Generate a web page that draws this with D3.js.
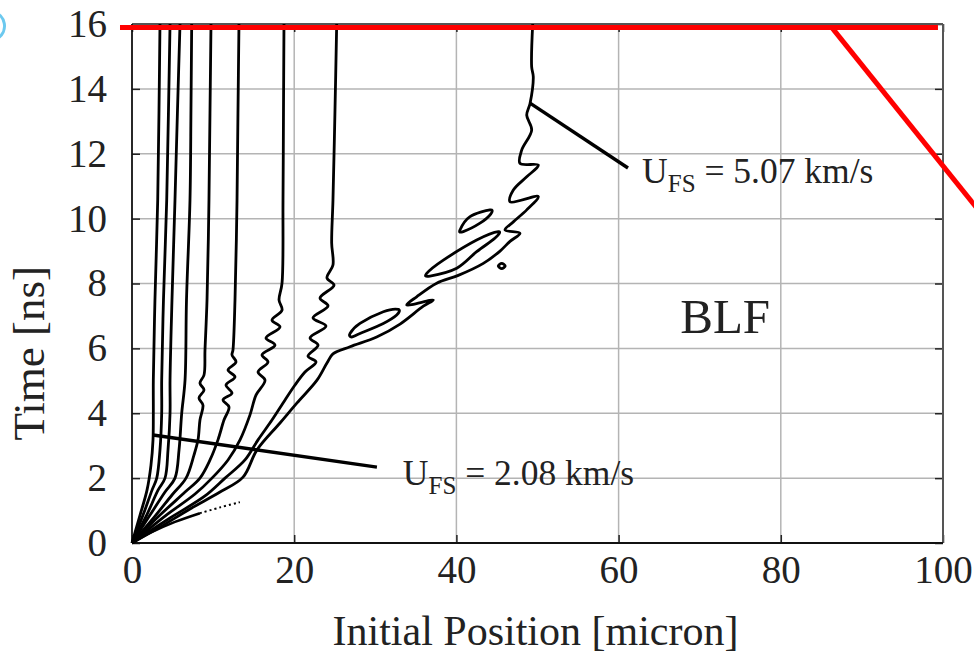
<!DOCTYPE html>
<html>
<head>
<meta charset="utf-8">
<script src="https://cdn.jsdelivr.net/npm/d3@7"></script>
<style>
  body { margin: 0; background: #fff; }
  text { font-family: "Liberation Serif", "DejaVu Serif", serif; fill: #222; }
</style>
</head>
<body>
<div id="chart"></div>
<script>
// tick values
const xTicks = [0, 20, 40, 60, 80, 100];
const yTicks = [0, 2, 4, 6, 8, 10, 12, 14, 16];

// trajectories: [initial position (micron), time (ns)]
const curve1 = [[0,0],[0.99,0.86],[1.85,1.63],[2.34,2.4],[2.59,3.18],[2.63,4.0],[2.63,5.02],[2.83,7.49],[3.17,10.57],[3.33,13.35],[3.45,16]];
const curve2 = [[0,0],[1.36,0.86],[2.47,1.63],[3.05,2.0],[3.45,2.87],[3.66,4.0],[3.66,5.02],[3.88,7.49],[4.28,10.57],[4.5,13.35],[4.69,16]];
const curve3 = [[0,0],[1.81,0.86],[3.21,1.63],[4.07,2.0],[4.44,2.87],[4.69,4.0],[4.69,5.02],[4.93,7.49],[5.3,10.57],[5.61,13.35],[5.92,16]];
const curve4 = [[0,0],[2.22,0.86],[4.07,1.57],[5.3,2.0],[5.8,2.87],[6.13,4.0],[6.54,5.02],[6.72,7.49],[7.15,10.57],[7.27,13.35],[7.36,16]];
const curve5 = [[0,0],[2.84,0.83],[4.93,1.48],[6.66,2.0],[7.64,2.71],[8.14,3.18],[8.38,3.79],[8.75,4.25],[8.26,4.47],[8.88,4.72],[8.38,4.93],[8.88,5.18],[9.0,5.95],[9.25,7.49],[9.49,10.57],[9.62,13.35],[9.74,16]];
const curve6 = [[0,0],[3.45,0.86],[6.54,1.57],[8.38,2.0],[9.62,2.56],[10.6,3.18],[11.34,3.79],[11.96,4.19],[11.22,4.41],[12.33,4.62],[11.59,4.87],[12.7,5.12],[11.84,5.33],[12.82,5.58],[12.33,5.8],[12.45,5.95],[12.7,7.49],[12.95,10.57],[13.07,13.35],[13.19,16]];
const curve7 = [[0,0],[4.07,0.83],[7.77,1.51],[9.86,2.0],[11.84,2.56],[13.32,3.18],[14.55,3.95],[15.29,4.56],[16.4,5.02],[15.54,5.27],[16.77,5.58],[16.03,5.8],[17.63,6.1],[16.52,6.32],[18.25,6.66],[17.26,6.87],[18.5,7.18],[18.13,7.49],[18.5,8.01],[18.62,10.57],[18.68,13.35],[18.74,16]];
const curve8 = [[0,0],[4.69,0.77],[9.0,1.45],[11.47,2.0],[13.93,2.56],[15.54,3.18],[17.26,3.79],[18.87,4.41],[20.1,4.87],[21.33,5.27],[22.69,5.58],[21.7,5.76],[22.94,6.1],[21.95,6.32],[23.92,6.69],[22.32,6.94],[24.17,7.31],[23.18,7.55],[24.91,7.95],[24.04,8.17],[24.78,8.57],[24.62,9.25],[24.78,10.57],[25.03,13.35],[25.24,16]];
const curve9 = [[0,0],[3.45,0.49],[7.15,1.05],[10.85,1.57],[13.69,2.03],[15.41,2.87],[18.25,3.7],[20.35,4.32],[22.81,5.02],[24.04,5.55],[24.78,5.83],[26.88,6.05],[30.17,6.35],[33.05,6.75],[35.92,7.3],[37.15,7.49],[33.87,7.34],[35.1,7.59],[37.57,8.01],[40.23,8.25],[43.32,8.62],[45.38,9.0],[46.61,9.3],[47.84,9.55],[45.99,9.65],[47.02,9.9],[48.67,10.27],[50.1,10.68],[46.61,10.52],[47.02,10.88],[48.67,11.29],[50.1,11.65],[47.84,11.7],[48.05,12.11],[49.28,12.73],[48.67,13.19],[49.08,13.55],[49.48,14.37],[49.28,14.68],[49.41,16]];
const curves = [curve1, curve2, curve3, curve4, curve5, curve6, curve7, curve8, curve9];

// lowest trajectory, solid then dotted
const lowSolid = [[0,0],[2.22,0.31],[5.3,0.65],[8.38,0.92]];
const lowDotted = [[8.38,0.92],[10.9,1.1],[13.3,1.26]];

// closed contours along the last trajectory
const loopA = [[26.88,6.46],[28.11,6.77],[30.99,7.13],[32.84,7.2],[32.64,7.03],[30.99,6.77],[28.11,6.46],[27.09,6.35]];
const loopB = [[36.34,8.31],[38.39,8.72],[42.5,9.34],[45.17,9.6],[44.77,9.4],[42.5,8.98],[40.04,8.47],[36.75,8.23]];
const loopC = [[40.44,9.65],[41.68,10.06],[44.14,10.27],[44.23,10.14],[42.91,9.86],[40.85,9.6]];
const loopD = [[45.16,8.54],[45.59,8.62],[46.02,8.54],[45.59,8.46]];
const loops = [loopA, loopB, loopC, loopD];

// annotation leaders
const leader1 = [[2.59,3.33],[30.2,2.34]];
const leader2 = [[49.08,13.56],[61.16,11.56]];

// red overlay
const redLine = [[-1.48,15.89],[99.38,15.89]];
const redDiag = [[86.3,15.89],[110,8.51]];

const margin = {top: 24, right: 31, bottom: 115, left: 132},
  width = 811,
  height = 519;

const svg = d3.select("#chart")
  .append("svg")
  .attr("width", 974)
  .attr("height", 658)
  .append("g")
  .attr("transform", `translate(${margin.left},${margin.top})`);

const x = d3.scaleLinear().domain([0, 100]).range([0, width]);
const y = d3.scaleLinear().domain([0, 16]).range([height, 0]);

// grid
svg.append("g").selectAll("line")
  .data(xTicks.slice(1, -1))
  .join("line")
  .attr("x1", d => x(d)).attr("x2", d => x(d))
  .attr("y1", 0).attr("y2", height)
  .attr("stroke", "#b4b4b4").attr("stroke-width", 1.5);

svg.append("g").selectAll("line")
  .data(yTicks.slice(1, -1))
  .join("line")
  .attr("y1", d => y(d)).attr("y2", d => y(d))
  .attr("x1", 0).attr("x2", width)
  .attr("stroke", "#b4b4b4").attr("stroke-width", 1.5);

// axes with inward ticks
const fontTick = "39px";
const gx = svg.append("g").attr("transform", `translate(0,${height})`)
  .call(d3.axisBottom(x).tickValues(xTicks).tickSize(-8).tickPadding(12));
const gy = svg.append("g")
  .call(d3.axisLeft(y).tickValues(yTicks).tickSize(-8).tickPadding(25));
svg.append("g").attr("transform", `translate(${width},0)`)
  .call(d3.axisRight(y).tickValues(yTicks).tickSize(-8).tickFormat(""));
svg.append("g")
  .call(d3.axisTop(x).tickValues(xTicks).tickSize(-8).tickFormat(""));

svg.selectAll(".domain").remove();
svg.selectAll(".tick line").attr("stroke", "#222").attr("stroke-width", 1.5);
svg.selectAll(".tick text")
  .style("font-size", fontTick)
  .style("font-family", "Liberation Serif")
  .attr("fill", "#222");

// frame
svg.append("line").attr("x1", 0).attr("x2", width).attr("y1", 0).attr("y2", 0)
  .attr("stroke", "#555").attr("stroke-width", 2);
svg.append("line").attr("x1", width).attr("x2", width).attr("y1", 0).attr("y2", height)
  .attr("stroke", "#555").attr("stroke-width", 2);
svg.append("line").attr("x1", 0).attr("x2", width).attr("y1", height).attr("y2", height)
  .attr("stroke", "#111").attr("stroke-width", 1.8);
svg.append("line").attr("x1", 0).attr("x2", 0).attr("y1", 0).attr("y2", height)
  .attr("stroke", "#111").attr("stroke-width", 1.8);

// trajectories
const line = d3.line()
  .x(d => x(d[0])).y(d => y(d[1]))
  .curve(d3.curveCatmullRom.alpha(0.5));

svg.append("g").selectAll("path")
  .data(curves)
  .join("path")
  .attr("d", line)
  .attr("fill", "none")
  .attr("stroke", "#000")
  .attr("stroke-width", 2.8)
  .attr("stroke-linejoin", "round");

svg.append("path").attr("d", line(lowSolid))
  .attr("fill", "none").attr("stroke", "#000").attr("stroke-width", 2.6);
svg.append("path").attr("d", line(lowDotted))
  .attr("fill", "none").attr("stroke", "#000").attr("stroke-width", 2)
  .attr("stroke-dasharray", "2,3");

const loopLine = d3.line()
  .x(d => x(d[0])).y(d => y(d[1]))
  .curve(d3.curveCardinalClosed);

svg.append("g").selectAll("path")
  .data(loops)
  .join("path")
  .attr("d", loopLine)
  .attr("fill", "none")
  .attr("stroke", "#000")
  .attr("stroke-width", 2.8);

// leaders
const straight = d3.line().x(d => x(d[0])).y(d => y(d[1]));
[leader1, leader2].forEach(l => {
  svg.append("path").attr("d", straight(l))
    .attr("stroke", "#000").attr("stroke-width", 3.4).attr("fill", "none");
});

// annotations
function ufs(xv, yv, val) {
  const t = svg.append("text")
    .attr("x", x(xv)).attr("y", y(yv))
    .style("font-size", "35.5px");
  t.append("tspan").text("U");
  t.append("tspan").attr("dy", 9).style("font-size", "25px").text("FS");
  t.append("tspan").attr("dy", -9).text(" = " + val + " km/s");
}
ufs(33.4, 1.79, "2.08");
ufs(62.9, 11.1, "5.07");

svg.append("text")
  .attr("x", x(67.6)).attr("y", y(6.47))
  .style("font-size", "49px")
  .text("BLF");

// axis titles
svg.append("text")
  .attr("x", width / 2 - 2).attr("y", height + 102)
  .attr("text-anchor", "middle")
  .style("font-size", "42px")
  .text("Initial Position [micron]");

svg.append("text")
  .attr("transform", `translate(${-88},${y(5.85)}) rotate(-90)`)
  .attr("text-anchor", "middle")
  .style("font-size", "45px")
  .text("Time [ns]");

// red overlay
svg.append("path").attr("d", straight(redLine))
  .attr("stroke", "#ff0000").attr("stroke-width", 5).attr("fill", "none");
svg.append("path").attr("d", straight(redDiag))
  .attr("stroke", "#ff0000").attr("stroke-width", 5).attr("fill", "none");

// small cyan mark at top-left edge
svg.append("path")
  .attr("d", d3.arc()({innerRadius: 13, outerRadius: 16, startAngle: 0.2, endAngle: 2.6}))
  .attr("transform", `translate(${-margin.left - 10},${2})`)
  .attr("fill", "#6cc9ef");
</script>
</body>
</html>
